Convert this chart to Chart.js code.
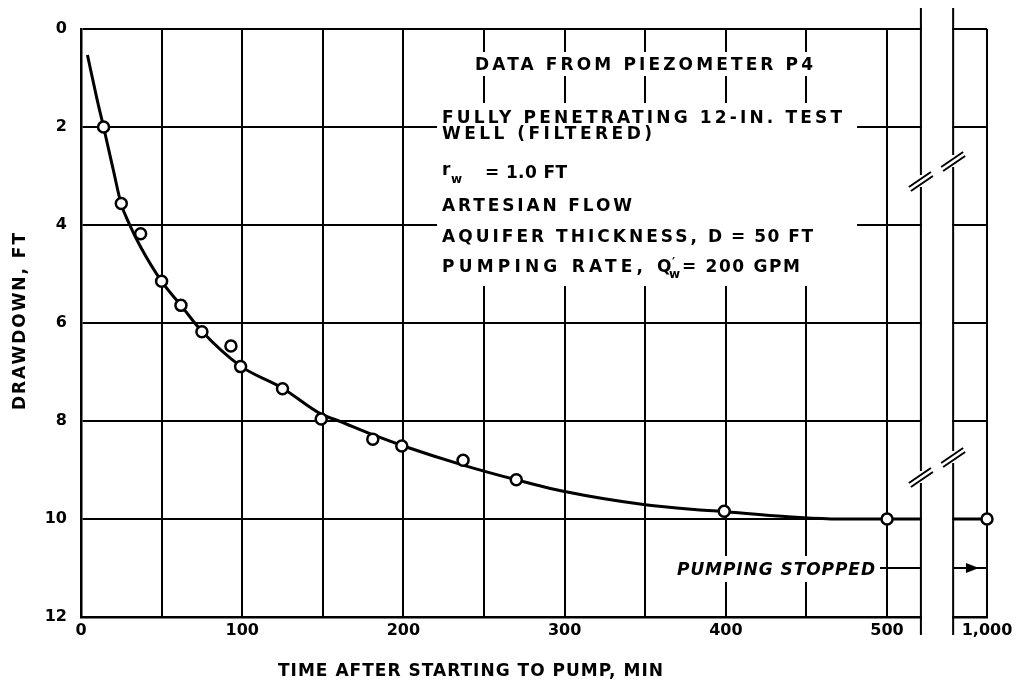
<!DOCTYPE html>
<html>
<head>
<meta charset="utf-8">
<title>Drawdown, piezometer P4</title>
<script src="https://cdn.jsdelivr.net/npm/chart.js@4.4.1/dist/chart.umd.min.js"></script>
<style>
    html, body { margin: 0; padding: 0; background: #fff; }
    #wrap { width: 1019px; height: 682px; position: relative; }
</style>
</head>
<body>
<div id="wrap"><canvas id="drawdown-chart"></canvas></div>
<script>
'use strict';

// Observed drawdown at piezometer P4 (time in min, drawdown in ft):
var obsTime = [14, 25, 37, 50, 62, 75, 93, 99, 125, 149, 181, 199, 237, 270, 399, 500, 1000];
var obsDrawdown = [2.0, 3.56, 4.18, 5.15, 5.64, 6.18, 6.47, 6.89, 7.34, 7.96, 8.37, 8.51, 8.8, 9.2, 9.84, 10.0, 10.0];

// Smooth curve drawn through the observations:
var fitTime = [4, 10, 14, 20, 25, 30, 37, 50, 62, 75, 99, 125, 149, 160, 181, 200, 237, 270, 300, 350, 382, 400, 446, 470, 500, 521];
var fitDrawdown = [0.53, 1.44, 2.0, 2.87, 3.58, 3.98, 4.45, 5.15, 5.64, 6.17, 6.88, 7.33, 7.86, 8.0, 8.28, 8.51, 8.9, 9.2, 9.44, 9.71, 9.81, 9.85, 9.97, 10.0, 10.0, 10.0];
var tailTime = [979, 1000];
var tailDrawdown = [10.0, 10.0];

// Time axis is broken between these two times:
var breakFrom = 521;
var breakTo = 979;
var gapWidth = 20;

var xTicks = [0, 50, 100, 150, 200, 250, 300, 350, 400, 450, 500, 1000];
var xLabels = ['0', '', '100', '', '200', '', '300', '', '400', '', '500', '1,000'];
var yTicks = [0, 2, 4, 6, 8, 10, 12];

// Time in minutes -> position on the (broken) x axis
function axisX(t) {
    return t <= breakFrom ? t : t - breakTo + breakFrom + gapWidth;
}

var FONT = 'DejaVu Sans';
var axisMax = axisX(1000);

var curveData = fitTime.map(function (t, i) { return { x: axisX(t), y: fitDrawdown[i] }; });
curveData.push({ x: breakFrom + gapWidth / 2, y: null });
tailTime.forEach(function (t, i) { curveData.push({ x: axisX(t), y: tailDrawdown[i] }); });

var pointData = obsTime.map(function (t, i) { return { x: axisX(t), y: obsDrawdown[i] }; });

// Draw text stretched over a given width with letter spacing:
function fitText(ctx, text, x, y, width) {
    ctx.letterSpacing = '0px';
    var w = ctx.measureText(text).width;
    var sp = text.length > 1 ? (width - w) / (text.length - 1) : 0;
    ctx.letterSpacing = sp + 'px';
    ctx.fillText(text, x, y);
    ctx.letterSpacing = '0px';
}

function breakSymbol(ctx, x, y) {
    ctx.fillStyle = '#fff';
    ctx.fillRect(x - 3, y - 6, 6, 12);
    ctx.beginPath();
    ctx.moveTo(x - 12, y + 6);
    ctx.lineTo(x + 10, y - 9);
    ctx.moveTo(x - 10, y + 10);
    ctx.lineTo(x + 12, y - 5);
    ctx.stroke();
}

var annotations = {
    id: 'annotations',
    beforeDatasetsDraw: function (chart) {
        var ctx = chart.ctx;
        var xs = chart.scales.x;
        var ys = chart.scales.y;
        var area = chart.chartArea;
        var xl = xs.getPixelForValue(breakFrom);
        var xr = xs.getPixelForValue(breakFrom + gapWidth);

        ctx.save();

        // Blank out the axis break
        ctx.fillStyle = '#fff';
        ctx.fillRect(xl + 1, 0, xr - xl - 2, area.bottom + 20);

        // Break lines and symbols
        ctx.strokeStyle = '#000';
        ctx.lineWidth = 2;
        ctx.beginPath();
        ctx.moveTo(xl, 8); ctx.lineTo(xl, 635);
        ctx.moveTo(xr, 8); ctx.lineTo(xr, 635);
        ctx.stroke();
        breakSymbol(ctx, xl, 181);
        breakSymbol(ctx, xl, 477);
        breakSymbol(ctx, xr, 161);
        breakSymbol(ctx, xr, 457);

        // White backing for the text blocks
        ctx.fillStyle = '#fff';
        ctx.fillRect(468, 52, 348, 24);
        ctx.fillRect(437, 103, 420, 183);
        ctx.fillRect(672, 556, 208, 26);

        ctx.fillStyle = '#000';
        ctx.textBaseline = 'alphabetic';
        ctx.textAlign = 'left';
        ctx.font = 'bold 17px ' + FONT;
        fitText(ctx, 'DATA FROM PIEZOMETER P4', 475, 70, 338);
        fitText(ctx, 'FULLY PENETRATING 12-IN. TEST', 442, 123, 400);
        fitText(ctx, 'WELL (FILTERED)', 442, 139, 210);

        ctx.fillText('r', 442, 175);
        ctx.font = 'bold 12px ' + FONT;
        ctx.fillText('w', 451, 183);
        ctx.font = 'bold 17px ' + FONT;
        fitText(ctx, '= 1.0 FT', 485, 178, 82);

        fitText(ctx, 'ARTESIAN FLOW', 442, 211, 190);
        fitText(ctx, 'AQUIFER THICKNESS,', 442, 242, 255);
        fitText(ctx, 'D = 50 FT', 708, 242, 105);
        fitText(ctx, 'PUMPING RATE,', 442, 272, 201);
        ctx.fillText('Q', 657, 272);
        ctx.font = 'bold 12px ' + FONT;
        ctx.fillText('w', 669, 278);
        ctx.fillText('\u2032', 672, 266);
        ctx.font = 'bold 17px ' + FONT;
        fitText(ctx, '= 200 GPM', 682, 272, 118);

        // Pumping stopped note and arrow at 11 ft
        var yStop = ys.getPixelForValue(11);
        ctx.font = 'italic bold 17px ' + FONT;
        fitText(ctx, 'PUMPING STOPPED', 677, yStop + 7, 198);
        ctx.lineWidth = 2;
        ctx.beginPath();
        ctx.moveTo(880, yStop); ctx.lineTo(xl, yStop);
        ctx.moveTo(xr, yStop); ctx.lineTo(xs.getPixelForValue(axisMax), yStop);
        ctx.stroke();
        var tip = xs.getPixelForValue(axisX(995));
        ctx.beginPath();
        ctx.moveTo(tip, yStop);
        ctx.lineTo(tip - 13, yStop - 5);
        ctx.lineTo(tip - 13, yStop + 5);
        ctx.closePath();
        ctx.fill();

        // Axis titles
        ctx.font = 'bold 17px ' + FONT;
        fitText(ctx, 'TIME AFTER STARTING TO PUMP, MIN', 278, 676, 385);
        ctx.translate(25, 410);
        ctx.rotate(-Math.PI / 2);
        fitText(ctx, 'DRAWDOWN, FT', 0, 0, 177);

        ctx.restore();
    }
};

var ctxDrawdown = document.getElementById('drawdown-chart').getContext('2d');
var chartDrawdown = new Chart(ctxDrawdown, {
    type: 'scatter',
    data: {
        datasets: [{
            label: 'Observed',
            data: pointData,
            order: 0,
            pointRadius: 5.5,
            pointBorderWidth: 2.5,
            pointBackgroundColor: '#fff',
            pointBorderColor: '#000',
            clip: false
        }, {
            label: 'Curve',
            type: 'line',
            data: curveData,
            order: 1,
            borderColor: '#000',
            borderWidth: 3,
            pointRadius: 0,
            cubicInterpolationMode: 'monotone',
            spanGaps: false,
            fill: false
        }]
    },
    options: {
        responsive: true,
        maintainAspectRatio: false,
        animation: false,
        layout: { padding: { top: 29, right: 32, bottom: 0, left: 0 } },
        plugins: {
            legend: { display: false },
            tooltip: { enabled: false }
        },
        scales: {
            x: {
                type: 'linear',
                min: 0,
                max: axisMax,
                afterBuildTicks: function (axis) {
                    axis.ticks = xTicks.map(function (t) { return { value: axisX(t) }; });
                },
                afterFit: function (axis) { axis.height = 65; },
                ticks: {
                    autoSkip: false,
                    maxRotation: 0,
                    padding: 4,
                    color: '#000',
                    font: { family: FONT, size: 16, weight: 'bold' },
                    callback: function (value, index) { return xLabels[index]; }
                },
                grid: { color: '#000', lineWidth: 2, drawTicks: false },
                border: { color: '#000', width: 2.5 }
            },
            y: {
                reverse: true,
                min: 0,
                max: 12,
                afterBuildTicks: function (axis) {
                    axis.ticks = yTicks.map(function (v) { return { value: v }; });
                },
                afterFit: function (axis) { axis.width = 81; },
                ticks: {
                    padding: 14,
                    color: '#000',
                    font: { family: FONT, size: 16, weight: 'bold' }
                },
                grid: { color: '#000', lineWidth: 2, drawTicks: false },
                border: { color: '#000', width: 2.5 }
            }
        }
    },
    plugins: [annotations]
});
</script>
</body>
</html>
